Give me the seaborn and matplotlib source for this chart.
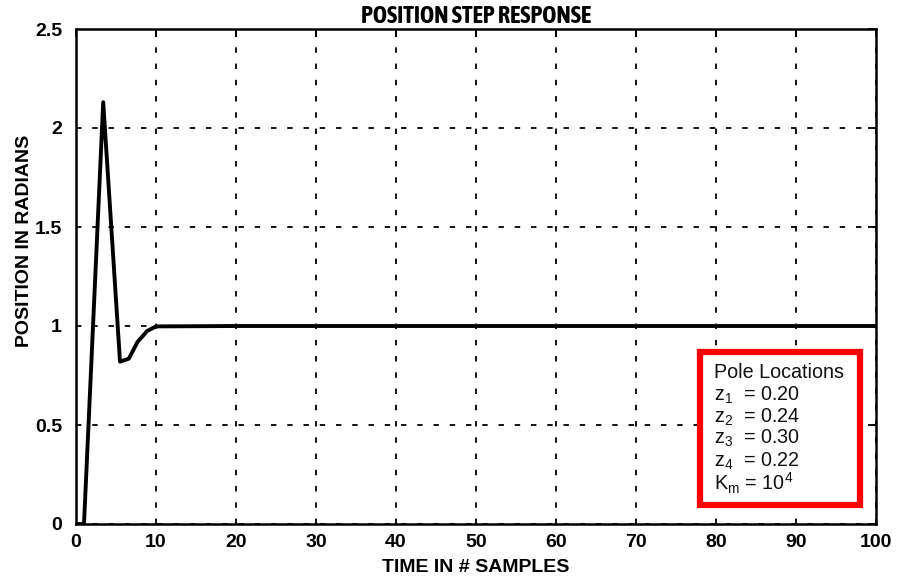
import matplotlib
matplotlib.use("Agg")
import matplotlib.pyplot as plt
import seaborn as sns
import pandas as pd
from matplotlib.patches import Rectangle
from matplotlib import font_manager

# ---- data ----
time_samples = [0, 1.0, 3.4, 5.5, 6.6, 7.7, 8.9, 10.0, 20, 40, 60, 80, 100]
position_rad = [0, 0, 2.13, 0.82, 0.835, 0.92, 0.975, 0.998, 1.0, 1.0, 1.0, 1.0, 1.0]
x_ticks = [0, 10, 20, 30, 40, 50, 60, 70, 80, 90, 100]
y_ticks = [0, 0.5, 1, 1.5, 2, 2.5]
y_tick_labels = ["0", "0.5", "1", "1.5", "2", "2.5"]
legend_lines = ["Pole Locations", r"z$_1$  = 0.20", r"z$_2$  = 0.24",
                r"z$_3$  = 0.30", r"z$_4$  = 0.22", r"K$_m$ = 10$^4$"]

sns.set_theme(style="white")


def _w(f):
    w = f.weight
    if isinstance(w, str):
        w = font_manager.weight_dict.get(w, 400)
    return w


ttf = font_manager.fontManager.ttflist
bold_cond = [f for f in ttf if ("Narrow" in f.name or "Condensed" in f.name) and _w(f) >= 600]
title_family = sorted(bold_cond, key=lambda f: f.name)[0].name if bold_cond else "Liberation Sans"

plt.rcParams["font.family"] = ["Liberation Sans", "DejaVu Sans"]
plt.rcParams["text.color"] = "black"
plt.rcParams["axes.labelcolor"] = "black"
plt.rcParams["mathtext.fontset"] = "custom"
plt.rcParams["mathtext.rm"] = "Liberation Sans"
plt.rcParams["mathtext.it"] = "Liberation Sans"

df = pd.DataFrame({"t": time_samples, "pos": position_rad})

L, R, T, B = 76, 876, 29, 524
fig = plt.figure(figsize=(9.06, 5.76), dpi=100)
ax = fig.add_axes([L / 906, 1 - B / 576, (R - L) / 906, (B - T) / 576])
W, H = R - L, B - T

sns.lineplot(data=df, x="t", y="pos", ax=ax, color="black", linewidth=2.8,
             estimator=None, sort=False)

ax.set_xlim(0, 100)
ax.set_ylim(0, 2.5)
ax.set_xticks(x_ticks)
ax.set_yticks(y_ticks)
ax.set_yticklabels(y_tick_labels)
ax.grid(True, color="black", linestyle=(0, (3, 6)), linewidth=1.3)

for s in ax.spines.values():
    s.set_visible(True)
    s.set_color("black")
    s.set_linewidth(1.8)

ax.tick_params(direction="in", length=6, width=1.3, top=True, right=True,
               labelsize=14, colors="black")
ax.tick_params(axis="y", pad=10)
ax.tick_params(axis="x", pad=7)
for lbl in ax.get_xticklabels() + ax.get_yticklabels():
    lbl.set_fontweight("bold")

ax.set_title("POSITION STEP RESPONSE", fontsize=17.4, fontweight="bold",
             family=[title_family, "Liberation Sans"], pad=4)
ax.set_xlabel("TIME IN # SAMPLES", fontsize=14, fontweight="bold")
ax.set_ylabel("POSITION IN RADIANS", fontsize=14, fontweight="bold")
ax.yaxis.set_label_coords((33 - L) / W, 0.572)
ax.xaxis.set_label_coords(0.5, (B - 559) / H)

# legend box
x0, x1 = (700 - L) / W, (860 - L) / W
y0, y1 = (B - 505) / H, (B - 352) / H
ax.add_patch(Rectangle((x0, y0), x1 - x0, y1 - y0, transform=ax.transAxes,
                       facecolor="white", edgecolor="#ff0000", linewidth=4.5,
                       zorder=5))
line_px = [372, 395, 417, 438, 461, 483]
for txt, py in zip(legend_lines, line_px):
    ax.text((714 - L) / W, (B - py) / H, txt, transform=ax.transAxes,
            fontsize=14.2, family="Liberation Sans", va="center", ha="left",
            zorder=6, color="#111111")

fig.savefig("out.png", dpi=100)
